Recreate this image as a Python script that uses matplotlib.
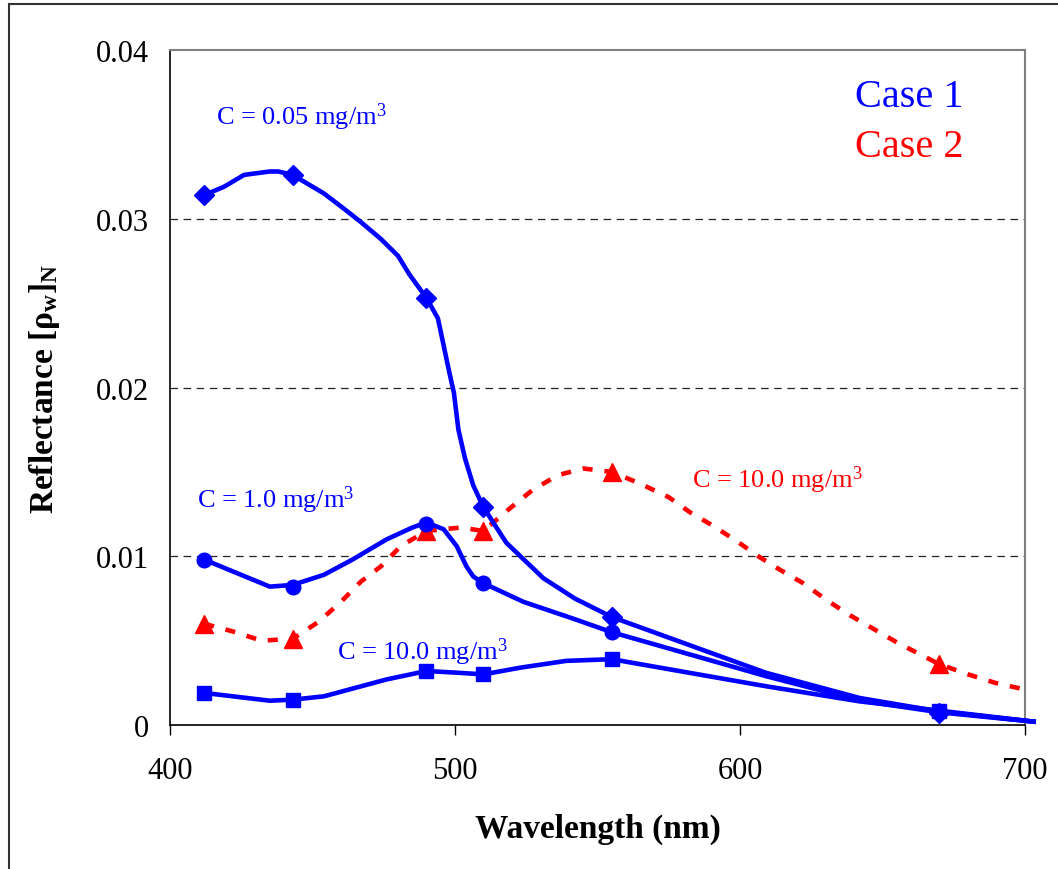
import numpy as np
import matplotlib
matplotlib.use('Agg')
from matplotlib import pyplot as plt
from matplotlib.lines import Line2D

plt.rcParams['font.family'] = ['Liberation Serif', 'DejaVu Serif']
plt.rcParams['mathtext.fontset'] = 'custom'
plt.rcParams['mathtext.rm'] = 'Liberation Serif'
plt.rcParams['mathtext.it'] = 'Liberation Serif:italic'
plt.rcParams['mathtext.bf'] = 'Liberation Serif:bold'

# Case 1, C = 0.05 mg/m3
wl_a = [412, 419, 426, 435, 438, 443, 454, 461, 467, 474, 480, 484, 490, 494, 496, 498,
        499.6, 501.2, 503.5, 506.4, 510, 518, 531, 542, 555, 609, 642, 670, 703]
ref_a = [0.0314, 0.0319, 0.0326, 0.0328, 0.0328, 0.0326, 0.0315, 0.0306, 0.0298, 0.0288,
         0.0278, 0.0267, 0.0253, 0.0241, 0.0225, 0.0209, 0.0197, 0.0175, 0.0158, 0.0142,
         0.0129, 0.0108, 0.0087, 0.0075, 0.0064, 0.0031, 0.0016, 0.0008, 0.0002]

# Case 1, C = 1.0 mg/m3
wl_b = [412, 435, 443, 454, 464, 476, 485, 490, 496, 500.6, 504, 506.4, 510, 524, 541.5,
        555, 609, 642, 670, 703]
ref_b = [0.0098, 0.0082, 0.0083, 0.0089, 0.0098, 0.0110, 0.0117, 0.0120, 0.0116, 0.0106,
         0.0094, 0.0088, 0.0084, 0.0073, 0.0063, 0.0055, 0.0029, 0.00145, 0.00075, 0.0002]

# Case 1, C = 10.0 mg/m3
wl_c = [412, 435, 443, 454, 476, 490, 500.6, 510, 523, 539, 555, 609, 642, 670, 703]
ref_c = [0.0019, 0.00144, 0.0015, 0.0017, 0.0027, 0.0032, 0.0031, 0.0030, 0.0034, 0.0038,
         0.0039, 0.0023, 0.0014, 0.00085, 0.0002]

# Case 2, C = 10.0 mg/m3
wl_d = [412, 423, 432, 443, 452, 460, 467, 474, 481, 490, 502, 510, 519, 527, 536, 545, 555,
        565, 575, 582.5, 590.6, 598.8, 606.4, 614, 622.2, 630.4, 638.6, 646.8, 655, 663, 670,
        680, 689.5, 700]
ref_d = [0.0060, 0.0055, 0.0050, 0.0051, 0.0061, 0.0073, 0.0085, 0.0094, 0.0106, 0.0115,
         0.0117, 0.0115, 0.0128, 0.0139, 0.0148, 0.0152, 0.0150, 0.0143, 0.0135, 0.0126,
         0.0118, 0.0109, 0.0100, 0.0092, 0.0084, 0.0074, 0.0065, 0.0057, 0.0049, 0.0042,
         0.0036, 0.0030, 0.0025, 0.0021]

# sensor bands with markers
mk_wl = [412, 443, 490, 510, 555, 670]
mk_a = [0.0314, 0.0326, 0.0253, 0.0129, 0.0064, 0.0007]
mk_b = [0.0098, 0.0082, 0.0119, 0.0084, 0.0055, 0.00075]
mk_c = [0.0019, 0.0015, 0.0032, 0.0030, 0.0039, 0.00085]
mk_d = [0.0060, 0.0051, 0.0115, 0.0115, 0.0150, 0.0036]

xticks = [400, 500, 600, 700]
yticks = [0, 0.01, 0.02, 0.03, 0.04]
ytick_labels = ['0', '0.01', '0.02', '0.03', '0.04']

W, H = 1058, 870
fig = plt.figure(figsize=(W / 100, H / 100), dpi=100)
ax = fig.add_axes([170 / W, 1 - 726 / H, (1025 - 170) / W, (726 - 51) / H])

blue = '#0000ff'
red = '#ff0000'
lw = 3.3

for yv in yticks[1:-1]:
    ax.axhline(yv, color='#222222', lw=0.9, ls=(0, (6, 4.5)), zorder=1)

ax.plot(wl_c, ref_c, color=blue, lw=lw, clip_on=False, zorder=3)
ax.plot(mk_wl, mk_c, 's', color=blue, ms=10, clip_on=False, zorder=4)
ax.plot(wl_d, ref_d, color=red, lw=lw, ls=(0, (2.2, 2.6)), clip_on=False, zorder=2)
ax.plot(mk_wl, mk_d, '^', color=red, ms=13, clip_on=False, zorder=2)
ax.plot(wl_b, ref_b, color=blue, lw=lw, clip_on=False, zorder=3)
ax.plot(mk_wl, mk_b, 'o', color=blue, ms=10.5, clip_on=False, zorder=4)
ax.plot(wl_a, ref_a, color=blue, lw=lw, clip_on=False, zorder=3)
ax.plot(mk_wl, mk_a, 'D', color=blue, ms=10, clip_on=False, zorder=4)

ax.set_xlim(400, 700)
ax.set_ylim(0, 0.04)
ax.set_xticks(xticks)
ax.set_xticklabels([str(x) for x in xticks])
ax.set_yticks(yticks)
ax.set_yticklabels(ytick_labels)
ax.tick_params(axis='x', direction='out', length=7, width=1, pad=15, labelsize=22)
ax.tick_params(axis='y', length=0, pad=15, labelsize=22)

for s in ['left', 'bottom']:
    ax.spines[s].set_color('black')
    ax.spines[s].set_linewidth(1.2)
for s in ['top', 'right']:
    ax.spines[s].set_color('#808080')
    ax.spines[s].set_linewidth(1.5)

ax.set_xlabel('Wavelength (nm)', fontsize=24, fontweight='bold', labelpad=20)
ax.set_ylabel(r'Reflectance [$\mathbf{\rho}_{\mathbf{w}}$]$_{\mathbf{N}}$',
              fontsize=24, fontweight='bold')
ax.yaxis.set_label_coords((62 - 170) / (1025 - 170), 0.5)

def ftext(x, y, s, color, size):
    fig.text(x / W, 1 - y / H, s, color=color, fontsize=size, ha='left', va='baseline')

ftext(216, 125, r'C = 0.05 mg/m$^3$', blue, 19)
ftext(197, 508, r'C = 1.0 mg/m$^3$', blue, 19)
ftext(337, 660, r'C = 10.0 mg/m$^3$', blue, 19)
ftext(692, 488, r'C = 10.0 mg/m$^3$', red, 19)
ftext(855, 107, 'Case 1', blue, 29)
ftext(855, 157, 'Case 2', red, 29)

# outer frame (left and top edges only visible)
fig.add_artist(Line2D([9 / W, 9 / W], [0, 1 - 5 / H], color='#333333', lw=1.5))
fig.add_artist(Line2D([9 / W, 1], [1 - 5 / H, 1 - 5 / H], color='#333333', lw=1.5))

fig.savefig('out.png', dpi=100)
